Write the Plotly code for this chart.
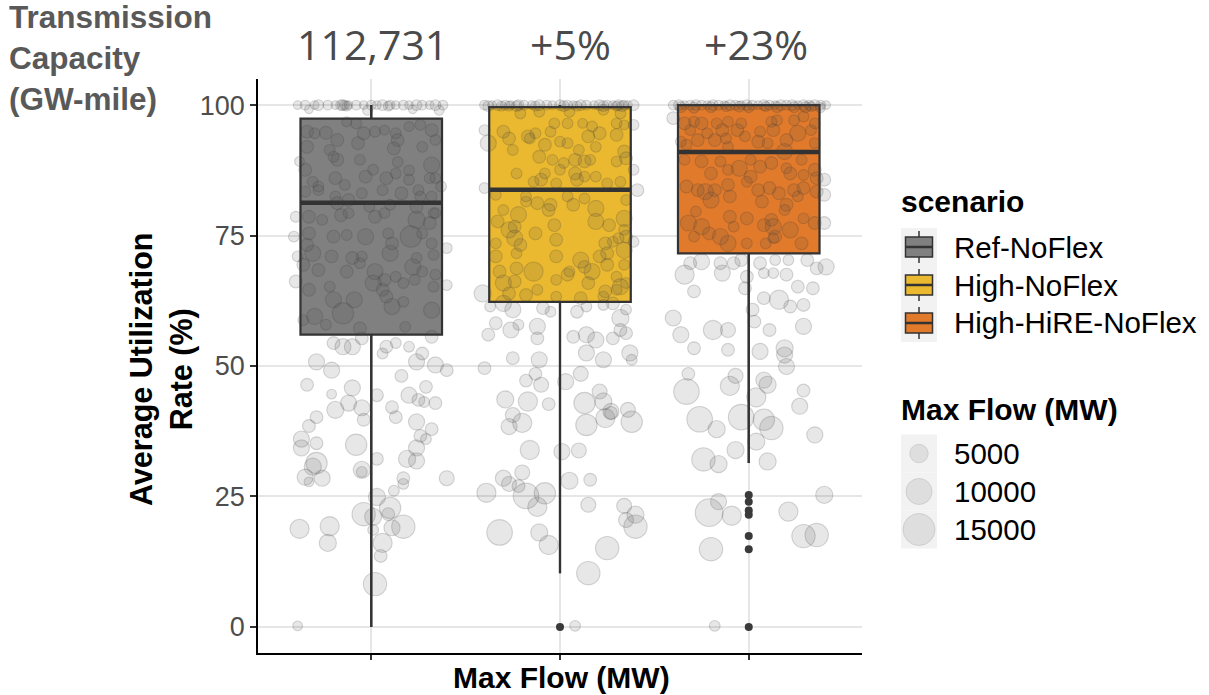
import plotly.graph_objects as go

W, H = 1209, 695

# ---------------- data ----------------
scenarios = ["Ref-NoFlex", "High-NoFlex", "High-HiRE-NoFlex"]
box_colors = ["#808080", "#EBB930", "#E17A2B"]
q1 = [56.0, 62.3, 71.6]
median = [81.3, 83.8, 91.0]
q3 = [97.4, 99.6, 100.0]
lower_fence = [0.0, 10.3, 31.4]
upper_fence = [100.0, 100.0, 100.0]
capacity_labels = ["112,731", "+5%", "+23%"]

outlier_scenario = [2, 3, 3, 3, 3, 3, 3, 3]
outlier_util = [0.0, 25.3, 24.0, 22.3, 21.5, 17.4, 14.9, 0.0]

size_legend_values = [5000, 10000, 15000]

# Ref-NoFlex: horizontal jitter, average utilisation (%), max flow (MW)
ref_jitter = [
    -0.39, -0.35, -0.30, -0.28, -0.23, -0.19, -0.16, -0.14, -0.12, -0.08,
    -0.04, 0.00, 0.03, 0.06, 0.10, 0.13, 0.17, 0.20, 0.24, 0.27,
    0.31, 0.34, 0.38, -0.15, -0.13, 0.09, -0.33, -0.02, 0.22, 0.36,
    -0.34, -0.30, -0.24, -0.18, -0.13, -0.08, -0.04, 0.02, 0.07, 0.13,
    0.14, 0.20, 0.26, 0.32, 0.34, -0.34, -0.22, -0.18, -0.20, -0.06,
    -0.07, 0.12, 0.14, 0.20, 0.27, 0.32, 0.31, 0.37, -0.35, -0.31,
    -0.28, -0.19, -0.14, -0.03, 0.01, 0.08, 0.13, 0.20, 0.25, 0.34,
    -0.38, -0.35, -0.28, -0.19, -0.12, -0.05, 0.06, 0.16, 0.26, 0.32,
    -0.18, -0.01, 0.10, 0.24, 0.33, -0.40, -0.33, -0.26, -0.16, -0.12,
    0.02, 0.07, 0.24, 0.31, 0.34, -0.33, -0.20, -0.13, -0.03, 0.09,
    0.21, 0.27, 0.32, -0.41, -0.31, -0.34, -0.21, -0.10, -0.05, 0.10,
    0.11, 0.24, 0.33, 0.40, -0.39, -0.36, -0.28, -0.13, -0.06, 0.02,
    0.07, 0.13, 0.22, 0.27, 0.34, -0.40, -0.33, -0.22, 0.01, 0.06,
    0.17, 0.23, 0.33, 0.40, -0.20, -0.09, 0.08, 0.11, 0.17, 0.32,
    -0.15, -0.30, -0.36, -0.24, -0.06, 0.18, -0.20, -0.15, -0.10, -0.05,
    0.08, 0.13, 0.20, 0.27, 0.32, 0.06, -0.29, -0.21, -0.34, -0.21,
    -0.10, -0.19, -0.12, -0.05, -0.04, -0.29, -0.33, -0.37, -0.29, -0.37,
    -0.08, -0.29, -0.31, -0.35, -0.26, -0.33, -0.05, -0.05, 0.03, 0.11,
    0.13, 0.16, 0.20, 0.25, 0.29, 0.28, 0.34, 0.24, 0.32, 0.26,
    0.29, 0.24, 0.19, 0.24, 0.03, 0.17, 0.17, 0.12, 0.40, 0.24,
    0.34, 0.40, 0.03, -0.04, 0.01, 0.10, 0.09, 0.11, 0.17, 0.06,
    0.05, 0.02, -0.38, -0.22, -0.23, -0.39, 0.01,
]
ref_util = [
    100, 100, 100, 100, 100, 100, 100, 100, 100, 100,
    100, 100, 100, 100, 100, 100, 100, 100, 100, 100,
    100, 100, 100, 100, 99.8, 99.8, 99.2, 99.0, 99.2, 99.0,
    94.9, 94.6, 94.7, 93.3, 96.8, 96.5, 94.6, 94.9, 95.2, 94.6,
    93.3, 95.9, 96.2, 95.2, 93.3, 92.0, 91.4, 89.5, 90.1, 89.5,
    92.7, 91.7, 89.1, 87.5, 92.0, 88.5, 86.0, 84.4, 87.6, 85.3,
    84.4, 86.0, 84.7, 86.3, 87.6, 86.0, 86.9, 85.7, 83.7, 86.0,
    89.2, 83.4, 83.7, 82.5, 81.8, 83.1, 83.7, 83.1, 82.5, 82.5,
    81.2, 80.5, 80.9, 80.5, 79.3, 78.6, 78.6, 78.0, 78.9, 79.3,
    78.6, 79.3, 78.0, 77.4, 79.3, 75.4, 74.8, 75.1, 74.8, 75.4,
    74.8, 75.4, 73.5, 74.8, 71.6, 73.2, 71.0, 70.7, 71.0, 71.6,
    73.5, 70.7, 71.3, 72.6, 71.0, 69.4, 68.4, 68.1, 69.7, 68.1,
    66.5, 67.1, 69.0, 68.1, 67.5, 66.2, 64.6, 65.2, 65.9, 64.6,
    65.9, 66.5, 65.2, 65.5, 62.7, 62.7, 63.3, 61.4, 62.3, 60.7,
    60.1, 59.5, 58.8, 57.9, 57.2, 57.5, 54.4, 53.7, 53.7, 55.3,
    53.7, 54.4, 53.7, 52.4, 55.6, 52.4, 50.8, 49.2, 46.4, 44.6,
    45.8, 41.6, 42.9, 42.0, 39.7, 40.2, 38.5, 36.0, 35.2, 34.3,
    34.9, 31.4, 30.7, 28.7, 28.5, 27.8, 30.1, 29.7, 44.4, 42.1,
    40.2, 48.1, 44.4, 43.5, 46.0, 43.1, 42.9, 39.3, 37.9, 36.6,
    36.0, 34.3, 32.2, 31.8, 32.2, 28.5, 27.4, 26.1, 28.5, 50.8,
    50.2, 49.2, 24.9, 21.6, 21.1, 22.8, 21.6, 19.0, 19.2, 16.1,
    13.6, 8.2, 18.8, 19.3, 16.1, 0.2, 18.6,
]
ref_flow = [
    1100, 1400, 1100, 1700, 1400, 1100, 1700, 1400, 1100, 1400,
    1100, 1400, 1100, 1700, 1400, 1100, 1400, 1100, 1700, 1400,
    1100, 1700, 1400, 1700, 1400, 1400, 1100, 1400, 1100, 1400,
    2400, 1700, 2400, 2400, 1400, 1700, 2400, 1700, 1400, 1700,
    2400, 1400, 1700, 2400, 1700, 2400, 1700, 2400, 1700, 1700,
    2400, 2400, 1700, 1700, 1700, 3800, 1700, 1700, 2400, 1700,
    1700, 2400, 1700, 2400, 1700, 2400, 1700, 1700, 1700, 1700,
    1400, 1700, 1700, 1700, 2400, 1700, 1700, 2400, 1700, 1700,
    2400, 1700, 1700, 2400, 1700, 1700, 2400, 1700, 2400, 1700,
    2400, 1700, 4300, 2400, 1700, 2400, 2400, 1700, 3800, 1700,
    6700, 1700, 1700, 1700, 3800, 2400, 2400, 2400, 1700, 3800,
    2400, 1700, 1700, 1700, 1700, 2400, 2400, 2400, 1700, 3800,
    2400, 1700, 3800, 1700, 1700, 2400, 2400, 1700, 3800, 2400,
    1700, 1700, 1700, 1700, 3800, 3800, 2400, 3800, 1700, 3800,
    6700, 3800, 1700, 1700, 2400, 1700, 2400, 3800, 3800, 2400,
    2400, 1700, 1700, 2400, 2400, 1700, 3800, 3800, 2400, 1400,
    3800, 4300, 3800, 3800, 2400, 2400, 2400, 3800, 2400, 3800,
    6700, 6700, 4300, 3800, 3800, 1400, 4300, 1700, 2400, 2400,
    2400, 2400, 3800, 2400, 2400, 1700, 2400, 3800, 2400, 2400,
    1700, 3800, 4300, 3800, 2400, 2400, 1700, 1700, 3300, 3800,
    3800, 2400, 4300, 8000, 4300, 6700, 2400, 3800, 8000, 5400,
    2400, 8000, 5400, 5400, 4300, 1400, 1700,
]

# High-NoFlex
high_jitter = [
    -0.40, -0.36, -0.33, -0.29, -0.26, -0.22, -0.19, -0.15, -0.11, -0.07,
    -0.04, 0.00, 0.04, 0.07, 0.11, 0.14, 0.18, 0.21, 0.25, 0.28,
    0.31, 0.34, 0.36, 0.39, -0.38, -0.27, -0.23, -0.13, 0.02, 0.09,
    0.23, 0.30, 0.33, -0.31, -0.21, -0.11, 0.05, 0.23, 0.32, 0.39,
    -0.40, -0.38, -0.30, -0.27, -0.17, -0.13, -0.05, -0.03, 0.04, 0.12,
    0.17, 0.21, 0.30, 0.34, -0.25, -0.16, -0.08, 0.00, 0.04, 0.10,
    0.15, 0.19, 0.30, 0.34, -0.11, -0.04, 0.02, 0.08, 0.13, 0.16,
    0.30, 0.35, 0.39, -0.23, -0.08, 0.00, 0.08, 0.09, 0.19, 0.25,
    0.32, 0.41, -0.40, -0.10, -0.14, -0.02, 0.13, -0.34, -0.18, -0.12,
    -0.05, 0.04, 0.07, 0.13, 0.19, 0.35, -0.30, -0.22, -0.18, -0.06,
    0.34, -0.33, -0.24, -0.27, -0.03, 0.19, 0.26, 0.34, -0.13, -0.24,
    -0.21, -0.02, -0.34, 0.24, 0.28, 0.31, 0.35, -0.34, -0.23, -0.02,
    0.11, 0.21, 0.25, 0.34, 0.39, -0.32, -0.23, -0.14, 0.04, 0.13,
    0.17, 0.25, 0.34, 0.30, -0.30, -0.24, -0.12, -0.02, 0.05, 0.15,
    0.24, 0.32, 0.35, -0.27, -0.18, -0.02, 0.11, 0.23, 0.30, -0.41,
    -0.37, -0.30, -0.25, -0.09, -0.05, 0.09, 0.14, 0.23, 0.28, 0.32,
    0.35, -0.34, -0.38, -0.26, -0.22, -0.12, -0.12, 0.07, 0.14, 0.19,
    0.28, 0.32, 0.35, 0.14, 0.37, -0.25, -0.11, 0.23, 0.38, -0.40,
    -0.13, -0.18, -0.10, 0.03, 0.11, -0.29, -0.17, -0.06, -0.25, -0.27,
    -0.20, 0.13, 0.14, 0.21, 0.23, 0.27, 0.24, 0.27, 0.36, 0.38,
    -0.16, 0.01, 0.10, -0.30, -0.27, -0.20, -0.22, -0.39, -0.18, -0.08,
    -0.12, 0.05, 0.16, 0.15, 0.34, 0.35, 0.40, 0.40, -0.32, -0.11,
    -0.06, 0.25, 0.15, 0.08,
]
high_util = [
    100, 100, 100, 100, 100, 100, 100, 100, 100, 100,
    100, 100, 100, 100, 100, 100, 100, 100, 100, 100,
    100, 100, 100, 100, 99.8, 99.8, 99.8, 99.8, 99.8, 99.8,
    99.8, 99.8, 99.8, 99.8, 98.4, 98.7, 98.7, 99.1, 98.4, 96.2,
    95.2, 92.7, 94.9, 93.6, 94.0, 94.6, 94.9, 96.5, 96.5, 96.5,
    95.9, 94.6, 96.5, 96.2, 91.4, 93.6, 92.4, 93.0, 92.7, 91.4,
    94.0, 92.0, 94.3, 91.1, 90.1, 89.5, 88.9, 89.5, 89.2, 89.5,
    89.2, 89.8, 87.6, 86.9, 86.9, 87.6, 86.9, 85.7, 86.3, 85.0,
    85.3, 83.7, 84.1, 85.7, 85.3, 85.0, 86.3, 82.8, 82.5, 81.2,
    80.9, 82.5, 80.9, 82.1, 80.2, 81.8, 79.9, 79.0, 81.5, 79.9,
    78.3, 77.7, 76.7, 76.1, 77.0, 77.7, 77.0, 76.1, 75.4, 74.5,
    73.2, 74.2, 73.5, 73.5, 73.8, 74.5, 74.8, 71.0, 71.6, 71.0,
    70.3, 71.0, 71.6, 72.2, 73.8, 68.1, 68.7, 68.1, 67.5, 69.0,
    68.1, 69.4, 69.4, 67.1, 65.9, 66.2, 64.6, 66.5, 68.1, 65.9,
    64.3, 65.2, 65.9, 63.9, 63.6, 63.3, 63.0, 63.3, 64.6, 63.9,
    61.4, 62.0, 60.8, 61.1, 60.4, 60.4, 61.4, 61.7, 62.0, 59.2,
    60.8, 58.2, 56.0, 56.9, 57.9, 57.6, 55.3, 55.6, 56.0, 55.0,
    55.3, 56.9, 56.3, 52.5, 52.5, 51.5, 51.2, 51.2, 51.2, 49.6,
    48.5, 47.2, 46.4, 47.0, 48.5, 43.6, 43.2, 42.7, 40.6, 38.4,
    39.1, 42.9, 38.7, 45.1, 43.2, 41.3, 40.0, 41.0, 41.6, 39.3,
    33.9, 33.6, 33.8, 28.5, 27.4, 29.6, 27.0, 25.7, 25.1, 25.6,
    23.0, 28.0, 28.2, 23.4, 23.2, 20.5, 21.5, 19.2, 18.1, 18.1,
    15.7, 15.1, 10.3, 0.2,
]
high_flow = [
    1400, 1100, 1700, 1400, 1100, 1700, 1400, 1100, 1700, 1400,
    1100, 1700, 1400, 1100, 1700, 1400, 1100, 1700, 1400, 1100,
    1700, 1400, 1100, 1700, 1700, 1400, 1700, 1400, 1700, 1400,
    1700, 1400, 1700, 1400, 1700, 1700, 1700, 1700, 1700, 1700,
    1700, 3800, 2400, 2400, 2400, 1700, 1700, 1700, 1700, 1400,
    1700, 2400, 1700, 1400, 1700, 1700, 2400, 1700, 1700, 1700,
    2400, 1700, 2400, 2400, 2400, 1700, 1700, 2400, 2400, 1700,
    1700, 2400, 1700, 1700, 1700, 1700, 2400, 2400, 1700, 1700,
    1700, 2400, 1700, 2400, 1700, 1700, 1700, 1700, 1700, 2400,
    2400, 1700, 2400, 1700, 3800, 1700, 1700, 3800, 1700, 2400,
    3800, 2400, 2400, 3800, 2400, 3800, 2400, 1700, 2400, 3800,
    2400, 2400, 1700, 2400, 1700, 1700, 2400, 2400, 1700, 2400,
    3800, 2400, 2400, 3800, 1700, 2400, 2400, 5400, 2400, 2400,
    3800, 2400, 1700, 1700, 3800, 2400, 1700, 1700, 1700, 2400,
    2400, 3800, 1700, 2400, 2400, 1700, 2400, 1700, 1700, 4300,
    1700, 3800, 3800, 2400, 1700, 2400, 1700, 1700, 2400, 4300,
    1700, 2400, 2400, 3800, 1700, 3800, 2400, 2400, 3800, 3800,
    2400, 2400, 2400, 3800, 3800, 2400, 3800, 3800, 1700, 2400,
    2400, 2400, 3300, 3800, 3300, 4300, 5400, 2400, 3300, 3800,
    5400, 6700, 6700, 3300, 4300, 3800, 5400, 2400, 3300, 6700,
    5400, 3800, 3300, 3800, 3300, 3300, 2400, 5400, 9600, 6700,
    5400, 4300, 2400, 3300, 3300, 3300, 4300, 8000, 9600, 4300,
    5400, 8000, 8000, 1700,
]

# High-HiRE-NoFlex
hire_jitter = [
    -0.40, -0.37, -0.34, -0.31, -0.28, -0.25, -0.22, -0.19, -0.16, -0.13,
    -0.10, -0.07, -0.04, -0.01, 0.02, 0.05, 0.08, 0.11, 0.14, 0.17,
    0.20, 0.23, 0.26, 0.29, 0.32, 0.35, 0.38, 0.41, -0.36, -0.20,
    -0.05, 0.09, 0.24, 0.33, -0.29, 0.15, 0.38, -0.12, 0.30, 0.00,
    -0.40, -0.34, -0.29, -0.25, -0.17, -0.11, -0.04, 0.12, 0.15, 0.24,
    0.29, 0.35, -0.31, -0.22, -0.14, -0.06, 0.06, 0.13, 0.26, 0.33,
    -0.36, -0.27, -0.18, -0.12, -0.02, 0.05, 0.10, 0.20, 0.35, -0.33,
    -0.11, 0.19, -0.34, -0.25, -0.15, -0.05, 0.01, 0.06, 0.12, 0.20,
    0.28, 0.35, -0.20, -0.11, 0.01, 0.22, 0.29, 0.36, 0.40, -0.33,
    -0.27, -0.23, -0.18, -0.11, -0.01, 0.05, 0.11, 0.16, 0.24, 0.29,
    0.36, -0.20, -0.10, 0.07, 0.20, 0.26, 0.40, -0.28, -0.10, -0.01,
    0.12, 0.19, 0.29, -0.32, -0.25, -0.21, -0.15, -0.08, 0.08, 0.13,
    0.14, 0.22, 0.35, 0.40, -0.11, -0.01, 0.09, 0.13, 0.28, -0.29,
    -0.31, -0.25, -0.34, -0.15, -0.14, -0.08, -0.04, 0.06, 0.14, 0.21,
    0.31, 0.36, 0.41, 0.08, 0.13, 0.20, -0.01, -0.02, -0.29, 0.08,
    0.16, 0.22, 0.26, 0.34, 0.29, 0.02, -0.40, -0.36, -0.19, -0.11,
    0.03, 0.11, 0.29, -0.29, -0.11, 0.06, 0.19, 0.19, -0.32, -0.33,
    -0.10, -0.07, 0.08, 0.10, 0.04, 0.20, 0.29, 0.27, -0.26, -0.17,
    -0.04, 0.08, 0.12, 0.04, 0.35, -0.07, -0.24, -0.16, 0.10, -0.16,
    -0.21, -0.09, 0.21, 0.40, 0.29, 0.36, -0.20, -0.18,
]
hire_util = [
    100, 100, 100, 100, 100, 100, 100, 100, 100, 100,
    100, 100, 100, 100, 100, 100, 100, 100, 100, 100,
    100, 100, 100, 100, 100, 100, 100, 100, 99.6, 99.6,
    99.7, 99.7, 99.6, 99.7, 99.5, 99.6, 99.5, 99.7, 99.6, 99.5,
    97.5, 96.5, 96.8, 96.5, 96.5, 96.8, 96.5, 96.8, 97.1, 97.1,
    97.8, 96.5, 95.2, 94.6, 95.2, 95.2, 94.9, 95.2, 94.6, 95.2,
    93.0, 93.3, 93.3, 93.6, 94.0, 93.0, 92.7, 93.3, 92.7, 92.4,
    92.0, 91.1, 89.5, 89.2, 89.2, 87.9, 89.5, 88.2, 88.9, 87.9,
    89.5, 87.6, 86.9, 87.6, 86.3, 86.9, 86.6, 86.0, 85.7, 84.4,
    83.7, 83.4, 83.7, 84.7, 85.3, 83.7, 84.1, 83.1, 83.7, 84.1,
    83.4, 81.8, 82.5, 81.5, 80.9, 82.5, 82.8, 79.6, 78.6, 78.3,
    78.0, 79.9, 78.3, 77.4, 76.7, 75.4, 74.8, 76.7, 77.0, 76.7,
    74.8, 76.1, 77.4, 77.4, 73.5, 73.5, 73.5, 74.5, 73.5, 74.8,
    69.7, 70.0, 67.5, 69.7, 67.8, 69.7, 70.3, 69.7, 70.3, 70.3,
    70.3, 68.7, 69.0, 67.8, 67.8, 67.5, 67.1, 64.9, 64.3, 63.0,
    62.7, 61.4, 65.2, 64.9, 61.7, 60.8, 59.2, 56.0, 56.9, 56.9,
    58.5, 56.9, 57.6, 53.4, 53.1, 52.8, 53.4, 52.1, 48.5, 45.1,
    46.2, 48.1, 47.3, 46.4, 44.0, 49.9, 45.3, 42.3, 39.8, 37.9,
    40.2, 39.7, 38.1, 35.5, 36.8, 33.9, 32.1, 31.2, 31.7, 24.0,
    21.9, 21.3, 22.1, 25.3, 17.4, 17.6, 14.9, 0.2,
]
hire_flow = [
    1400, 1700, 1100, 1400, 1700, 1400, 1100, 1700, 1400, 1100,
    1700, 1400, 1100, 1700, 1400, 1100, 1700, 1400, 1100, 1700,
    1400, 1700, 1100, 1700, 1400, 1700, 1400, 1100, 1700, 1700,
    1700, 1400, 1700, 1400, 1700, 1700, 1400, 1400, 1700, 1400,
    2400, 2400, 1700, 2400, 1700, 1700, 1700, 1700, 1700, 1700,
    1700, 1700, 1700, 1700, 2400, 2400, 1700, 2400, 3800, 1700,
    1700, 2400, 2400, 1700, 1700, 2400, 1700, 2400, 1700, 1700,
    1700, 3800, 1700, 2400, 1700, 3800, 1700, 2400, 2400, 1700,
    1700, 2400, 2400, 1700, 2400, 2400, 1700, 2400, 2400, 2400,
    2400, 3800, 2400, 2400, 1700, 2400, 2400, 2400, 2400, 2400,
    2400, 3800, 2400, 2400, 2400, 1700, 2400, 1700, 2400, 2400,
    2400, 1700, 1700, 3800, 3800, 2400, 3800, 1700, 2400, 3800,
    2400, 3800, 2400, 2400, 3800, 1700, 1700, 1700, 2400, 1700,
    2400, 3800, 5400, 2400, 3800, 2400, 2400, 2400, 1700, 1700,
    2400, 2400, 3800, 1700, 1700, 2400, 2400, 2400, 2400, 2400,
    5400, 2400, 2400, 2400, 2400, 2400, 3800, 3800, 5400, 3300,
    2400, 2400, 3800, 2400, 2400, 3800, 4300, 3800, 2400, 9600,
    5400, 3300, 3800, 4300, 5400, 3800, 2400, 3800, 9600, 4300,
    9600, 6700, 8000, 4300, 3800, 4300, 8000, 4300, 4300, 3800,
    11300, 5400, 5400, 4300, 8000, 8000, 8000, 1700,
]

groups = [
    (ref_jitter, ref_util, ref_flow),
    (high_jitter, high_util, high_flow),
    (hire_jitter, hire_util, hire_flow),
]
for gj, gu, gf in groups:
    assert len(gj) == len(gu) == len(gf), (len(gj), len(gu), len(gf))

# ---------------- styling ----------------
FONT = "Liberation Sans, Arial, sans-serif"
BOX_WIDTH = 0.75
MAX_PX = 32.0          # marker diameter for 15000 MW
SIZEREF = 2.0 * 15000 / MAX_PX ** 2
PT_FILL = "rgba(75,75,75,0.19)"
PT_LINE = "rgba(55,55,55,0.28)"
DARK = "#333333"

# panel position in pixels
PL, PR, PT, PB = 258, 862, 79, 653


def px(x):
    return x / W


def py(y):
    return 1 - y / H


fig = go.Figure()

for i, name in enumerate(scenarios):
    fig.add_trace(go.Box(
        x=[i + 1], q1=[q1[i]], median=[median[i]], q3=[q3[i]],
        lowerfence=[lower_fence[i]], upperfence=[upper_fence[i]],
        width=BOX_WIDTH, fillcolor=box_colors[i],
        line=dict(color=DARK, width=2.2), whiskerwidth=0,
        boxpoints=False, name=name, hoverinfo="skip", showlegend=False,
    ))
    fig.add_trace(go.Scatter(
        x=[i + 1 - BOX_WIDTH / 2, i + 1 + BOX_WIDTH / 2], y=[median[i], median[i]],
        mode="lines", line=dict(color=DARK, width=4.5),
        hoverinfo="skip", showlegend=False,
    ))

for i, (gj, gu, gf) in enumerate(groups):
    fig.add_trace(go.Scatter(
        x=[i + 1 + j for j in gj], y=gu, mode="markers",
        marker=dict(size=gf, sizemode="area", sizeref=SIZEREF, sizemin=3,
                    color=PT_FILL, line=dict(color=PT_LINE, width=1.1)),
        hoverinfo="skip", showlegend=False, cliponaxis=False,
    ))

# whiskers redrawn over the points
for i in range(len(scenarios)):
    for lo, hi in ((lower_fence[i], q1[i]), (q3[i], upper_fence[i])):
        if hi > lo:
            fig.add_trace(go.Scatter(
                x=[i + 1, i + 1], y=[lo, hi], mode="lines",
                line=dict(color=DARK, width=2.2), hoverinfo="skip", showlegend=False,
            ))

fig.add_trace(go.Scatter(
    x=outlier_scenario, y=outlier_util, mode="markers",
    marker=dict(size=8, color="#3a3a3a"), hoverinfo="skip",
    showlegend=False, cliponaxis=False,
))

# size legend keys (on an auxiliary pixel-mapped axis)
LX0, LX1, LY0, LY1 = 880, 1000, 430, 560
fig.add_trace(go.Scatter(
    x=[919] * len(size_legend_values), y=[453.5, 491.5, 529.5],
    xaxis="x2", yaxis="y2", mode="markers",
    marker=dict(size=size_legend_values, sizemode="area", sizeref=SIZEREF,
                color="rgba(150,150,150,0.3)", line=dict(color="rgba(120,120,120,0.3)", width=1)),
    hoverinfo="skip", showlegend=False, cliponaxis=False,
))

shapes = []
annotations = []

# scenario legend
annotations.append(dict(text="<b>scenario</b>", x=px(899), y=py(201), xref="paper", yref="paper",
                        xanchor="left", yanchor="middle", showarrow=False,
                        font=dict(family=FONT, size=30, color="black")))
for k, (name, col) in enumerate(zip(scenarios, box_colors)):
    cy = 247 + 38 * k
    shapes.append(dict(type="rect", xref="paper", yref="paper",
                       x0=px(901), x1=px(937), y0=py(cy - 19), y1=py(cy + 19),
                       fillcolor="#f2f2f2", line=dict(width=0), layer="below"))
    shapes.append(dict(type="line", xref="paper", yref="paper",
                       x0=px(919), x1=px(919), y0=py(cy - 16), y1=py(cy + 16),
                       line=dict(color=DARK, width=1.5)))
    shapes.append(dict(type="rect", xref="paper", yref="paper",
                       x0=px(905.5), x1=px(932.5), y0=py(cy - 10), y1=py(cy + 10),
                       fillcolor=col, line=dict(color=DARK, width=1.5)))
    shapes.append(dict(type="line", xref="paper", yref="paper",
                       x0=px(905.5), x1=px(932.5), y0=py(cy), y1=py(cy),
                       line=dict(color=DARK, width=2.5)))
    annotations.append(dict(text=name, x=px(952), y=py(cy), xref="paper", yref="paper",
                            xanchor="left", yanchor="middle", showarrow=False,
                            font=dict(family=FONT, size=29.5, color="black")))

# size legend
annotations.append(dict(text="<b>Max Flow (MW)</b>", x=px(899), y=py(409), xref="paper", yref="paper",
                        xanchor="left", yanchor="middle", showarrow=False,
                        font=dict(family=FONT, size=30, color="black")))
for k, v in enumerate(size_legend_values):
    cy = 453.5 + 38 * k
    shapes.append(dict(type="rect", xref="paper", yref="paper",
                       x0=px(901), x1=px(937), y0=py(cy - 19), y1=py(cy + 19),
                       fillcolor="#f2f2f2", line=dict(width=0), layer="below"))
    annotations.append(dict(text=str(v), x=px(952), y=py(cy), xref="paper", yref="paper",
                            xanchor="left", yanchor="middle", showarrow=False,
                            font=dict(family=FONT, size=29.5, color="black")))

# capacity labels above each box
for k, (lab, cx) in enumerate(zip(capacity_labels, [372, 570, 756])):
    annotations.append(dict(text=lab, x=px(cx), y=py(44), xref="paper", yref="paper",
                            xanchor="center", yanchor="middle", showarrow=False,
                            font=dict(family="Open Sans, sans-serif", size=41, color="#4a4a4a")))

annotations.append(dict(text="<b>Transmission<br>Capacity<br>(GW-mile)</b>", x=px(7), y=py(58),
                        xref="paper", yref="paper", xanchor="left", yanchor="middle", align="left",
                        showarrow=False, font=dict(family=FONT, size=31.5, color="#595959")))

annotations.append(dict(text="<b>Average Utilization<br>Rate (%)</b>", x=px(161), y=py(370),
                        xref="paper", yref="paper", xanchor="center", yanchor="middle",
                        textangle=-90, showarrow=False,
                        font=dict(family=FONT, size=30.5, color="black")))
annotations.append(dict(text="<b>Max Flow (MW)</b>", x=px(561), y=py(677),
                        xref="paper", yref="paper", xanchor="center", yanchor="middle",
                        showarrow=False, font=dict(family=FONT, size=30, color="black")))

fig.update_layout(
    width=W, height=H,
    margin=dict(l=0, r=0, t=0, b=0, pad=0),
    paper_bgcolor="white", plot_bgcolor="white",
    showlegend=False,
    xaxis=dict(domain=[px(PL), px(PR)], range=[0.4, 3.6], anchor="y",
               tickvals=[1, 2, 3], ticktext=["", "", ""],
               ticks="outside", ticklen=5, tickwidth=1.5, tickcolor=DARK,
               showline=True, linecolor="black", linewidth=1.5,
               showgrid=True, gridcolor="#e6e6e6", gridwidth=1.5, zeroline=False,
               fixedrange=True),
    yaxis=dict(domain=[py(PB), py(PT)], range=[-5, 105], anchor="x",
               tickvals=[0, 25, 50, 75, 100],
               ticks="outside", ticklen=6, tickwidth=1.5, tickcolor=DARK,
               tickfont=dict(family=FONT, size=27, color="#4d4d4d"),
               showline=True, linecolor="black", linewidth=1.5,
               showgrid=True, gridcolor="#e6e6e6", gridwidth=1.5, zeroline=False,
               fixedrange=True),
    xaxis2=dict(domain=[px(LX0), px(LX1)], range=[LX0, LX1], anchor="y2",
                visible=False, fixedrange=True),
    yaxis2=dict(domain=[py(LY1), py(LY0)], range=[LY1, LY0], anchor="x2",
                visible=False, fixedrange=True),
    shapes=shapes,
    annotations=annotations,
)

fig.write_html("out.html")
